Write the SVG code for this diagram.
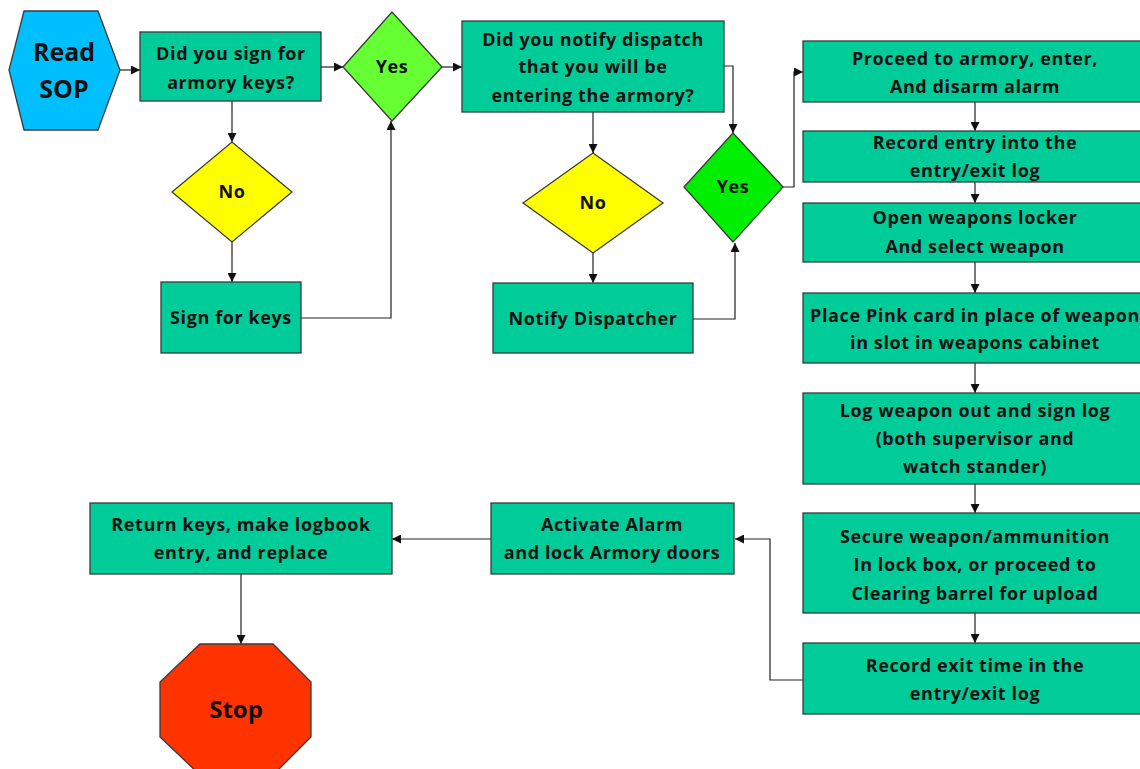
<svg xmlns="http://www.w3.org/2000/svg" width="1140" height="769" viewBox="0 0 1140 769">
<style>
.box{fill:#00cc99;stroke:#3a3a3a;stroke-width:1.3}
.t{font-family:"Open Sans",Lato,sans-serif;font-weight:bold;font-size:18px;letter-spacing:0.6px;fill:#111;text-anchor:middle}
.c{fill:none;stroke:#222;stroke-width:1.2;marker-end:url(#ah)}
</style>
<defs>
<marker id="ah" viewBox="0 0 10 10" refX="10" refY="5" markerWidth="9" markerHeight="9" markerUnits="userSpaceOnUse" orient="auto">
<path d="M0,0 L10,5 L0,10 z" fill="#111"/>
</marker>
</defs>
<rect width="1140" height="769" fill="#fff"/>
<g id="connectors">
<path class="c" d="M120,70 H140"/>
<path class="c" d="M321,67 H343"/>
<path class="c" d="M442,67 H462"/>
<path class="c" d="M232,101 V142"/>
<path class="c" d="M232,242 V282"/>
<path class="c" d="M301,318 H391 V121"/>
<path class="c" d="M593,112 V153"/>
<path class="c" d="M593,253 V283"/>
<path class="c" d="M693,319 H735 V243"/>
<path class="c" d="M724,66 H733 V133"/>
<path class="c" d="M783,187 H794 V72 H803"/>
<path class="c" d="M975,102 V131"/>
<path class="c" d="M975,182 V203"/>
<path class="c" d="M975,262 V293"/>
<path class="c" d="M975,363 V393"/>
<path class="c" d="M975,484 V513"/>
<path class="c" d="M975,613 V643"/>
<path class="c" d="M803,680 H770 V539 H735"/>
<path class="c" d="M491,539 H392"/>
<path class="c" d="M241,574 V644"/>
</g>
<g id="read-sop">
<polygon points="9,70 24,11 98,11 120,70 98,130 24,130" fill="#00bfff" stroke="#3a3a3a" stroke-width="1.3"/>
<text class="t" x="64" y="61" style="font-size:25px;letter-spacing:0">Read</text>
<text class="t" x="64" y="98" style="font-size:25px;letter-spacing:0">SOP</text>
</g>
<g id="sign-q">
<rect class="box" x="140" y="32" width="181" height="69"/>
<text class="t" x="231" y="60">Did you sign for</text>
<text class="t" x="231" y="89">armory keys?</text>
</g>
<g id="yes1">
<polygon points="343,67 392,12 442,67 392,121" fill="#66ff33" stroke="#3a3a3a" stroke-width="1.3"/>
<text class="t" x="392" y="73">Yes</text>
</g>
<g id="no1">
<polygon points="172,192 232,142 292,192 232,242" fill="#ffff00" stroke="#3a3a3a" stroke-width="1.3"/>
<text class="t" x="232" y="198">No</text>
</g>
<g id="sign-keys">
<rect class="box" x="161" y="282" width="140" height="71"/>
<text class="t" x="231" y="324">Sign for keys</text>
</g>
<g id="notify-q">
<rect class="box" x="462" y="21" width="262" height="91"/>
<text class="t" x="593" y="46">Did you notify dispatch</text>
<text class="t" x="593" y="73">that you will  be</text>
<text class="t" x="593" y="102">entering the armory?</text>
</g>
<g id="no2">
<polygon points="523,203 593,153 663,203 593,253" fill="#ffff00" stroke="#3a3a3a" stroke-width="1.3"/>
<text class="t" x="593" y="209">No</text>
</g>
<g id="notify">
<rect class="box" x="493" y="283" width="200" height="70"/>
<text class="t" x="593" y="325">Notify Dispatcher</text>
</g>
<g id="yes2">
<polygon points="684,187 733,133 783,187 733,242" fill="#00ee00" stroke="#3a3a3a" stroke-width="1.3"/>
<text class="t" x="733" y="193">Yes</text>
</g>
<g id="proceed">
<rect class="box" x="803" y="41" width="344" height="61"/>
<text class="t" x="975" y="65">Proceed to armory, enter,</text>
<text class="t" x="975" y="93">And disarm  alarm</text>
</g>
<g id="record-entry">
<rect class="box" x="803" y="131" width="344" height="51"/>
<text class="t" x="975" y="149">Record entry into the</text>
<text class="t" x="975" y="177">entry/exit log</text>
</g>
<g id="open-locker">
<rect class="box" x="803" y="203" width="344" height="59"/>
<text class="t" x="975" y="224">Open weapons locker</text>
<text class="t" x="975" y="253">And select weapon</text>
</g>
<g id="pink-card">
<rect class="box" x="803" y="293" width="344" height="70"/>
<text class="t" x="975" y="322">Place Pink card in place of weapon</text>
<text class="t" x="975" y="349">in slot in weapons cabinet</text>
</g>
<g id="log-out">
<rect class="box" x="803" y="393" width="344" height="91"/>
<text class="t" x="975" y="417">Log weapon out and sign log</text>
<text class="t" x="975" y="445">(both supervisor  and</text>
<text class="t" x="975" y="473">watch stander)</text>
</g>
<g id="secure">
<rect class="box" x="803" y="513" width="344" height="100"/>
<text class="t" x="975" y="543">Secure weapon/ammunition</text>
<text class="t" x="975" y="571">In lock box, or proceed to</text>
<text class="t" x="975" y="600">Clearing barrel for upload</text>
</g>
<g id="record-exit">
<rect class="box" x="803" y="643" width="344" height="71"/>
<text class="t" x="975" y="672">Record exit time in the</text>
<text class="t" x="975" y="700">entry/exit log</text>
</g>
<g id="activate">
<rect class="box" x="491" y="503" width="243" height="71"/>
<text class="t" x="612" y="531">Activate Alarm</text>
<text class="t" x="612" y="559">and  lock Armory doors</text>
</g>
<g id="return">
<rect class="box" x="90" y="503" width="302" height="71"/>
<text class="t" x="241" y="531">Return keys, make logbook</text>
<text class="t" x="241" y="559">entry, and replace</text>
</g>
<g id="stop">
<polygon points="200,644 273,644 311,682 311,737 273,775 200,775 160,737 160,682" fill="#ff3300" stroke="#3a3a3a" stroke-width="1.3"/>
<text class="t" x="236" y="718" style="font-size:24px;letter-spacing:0">Stop</text>
</g>
</svg>
